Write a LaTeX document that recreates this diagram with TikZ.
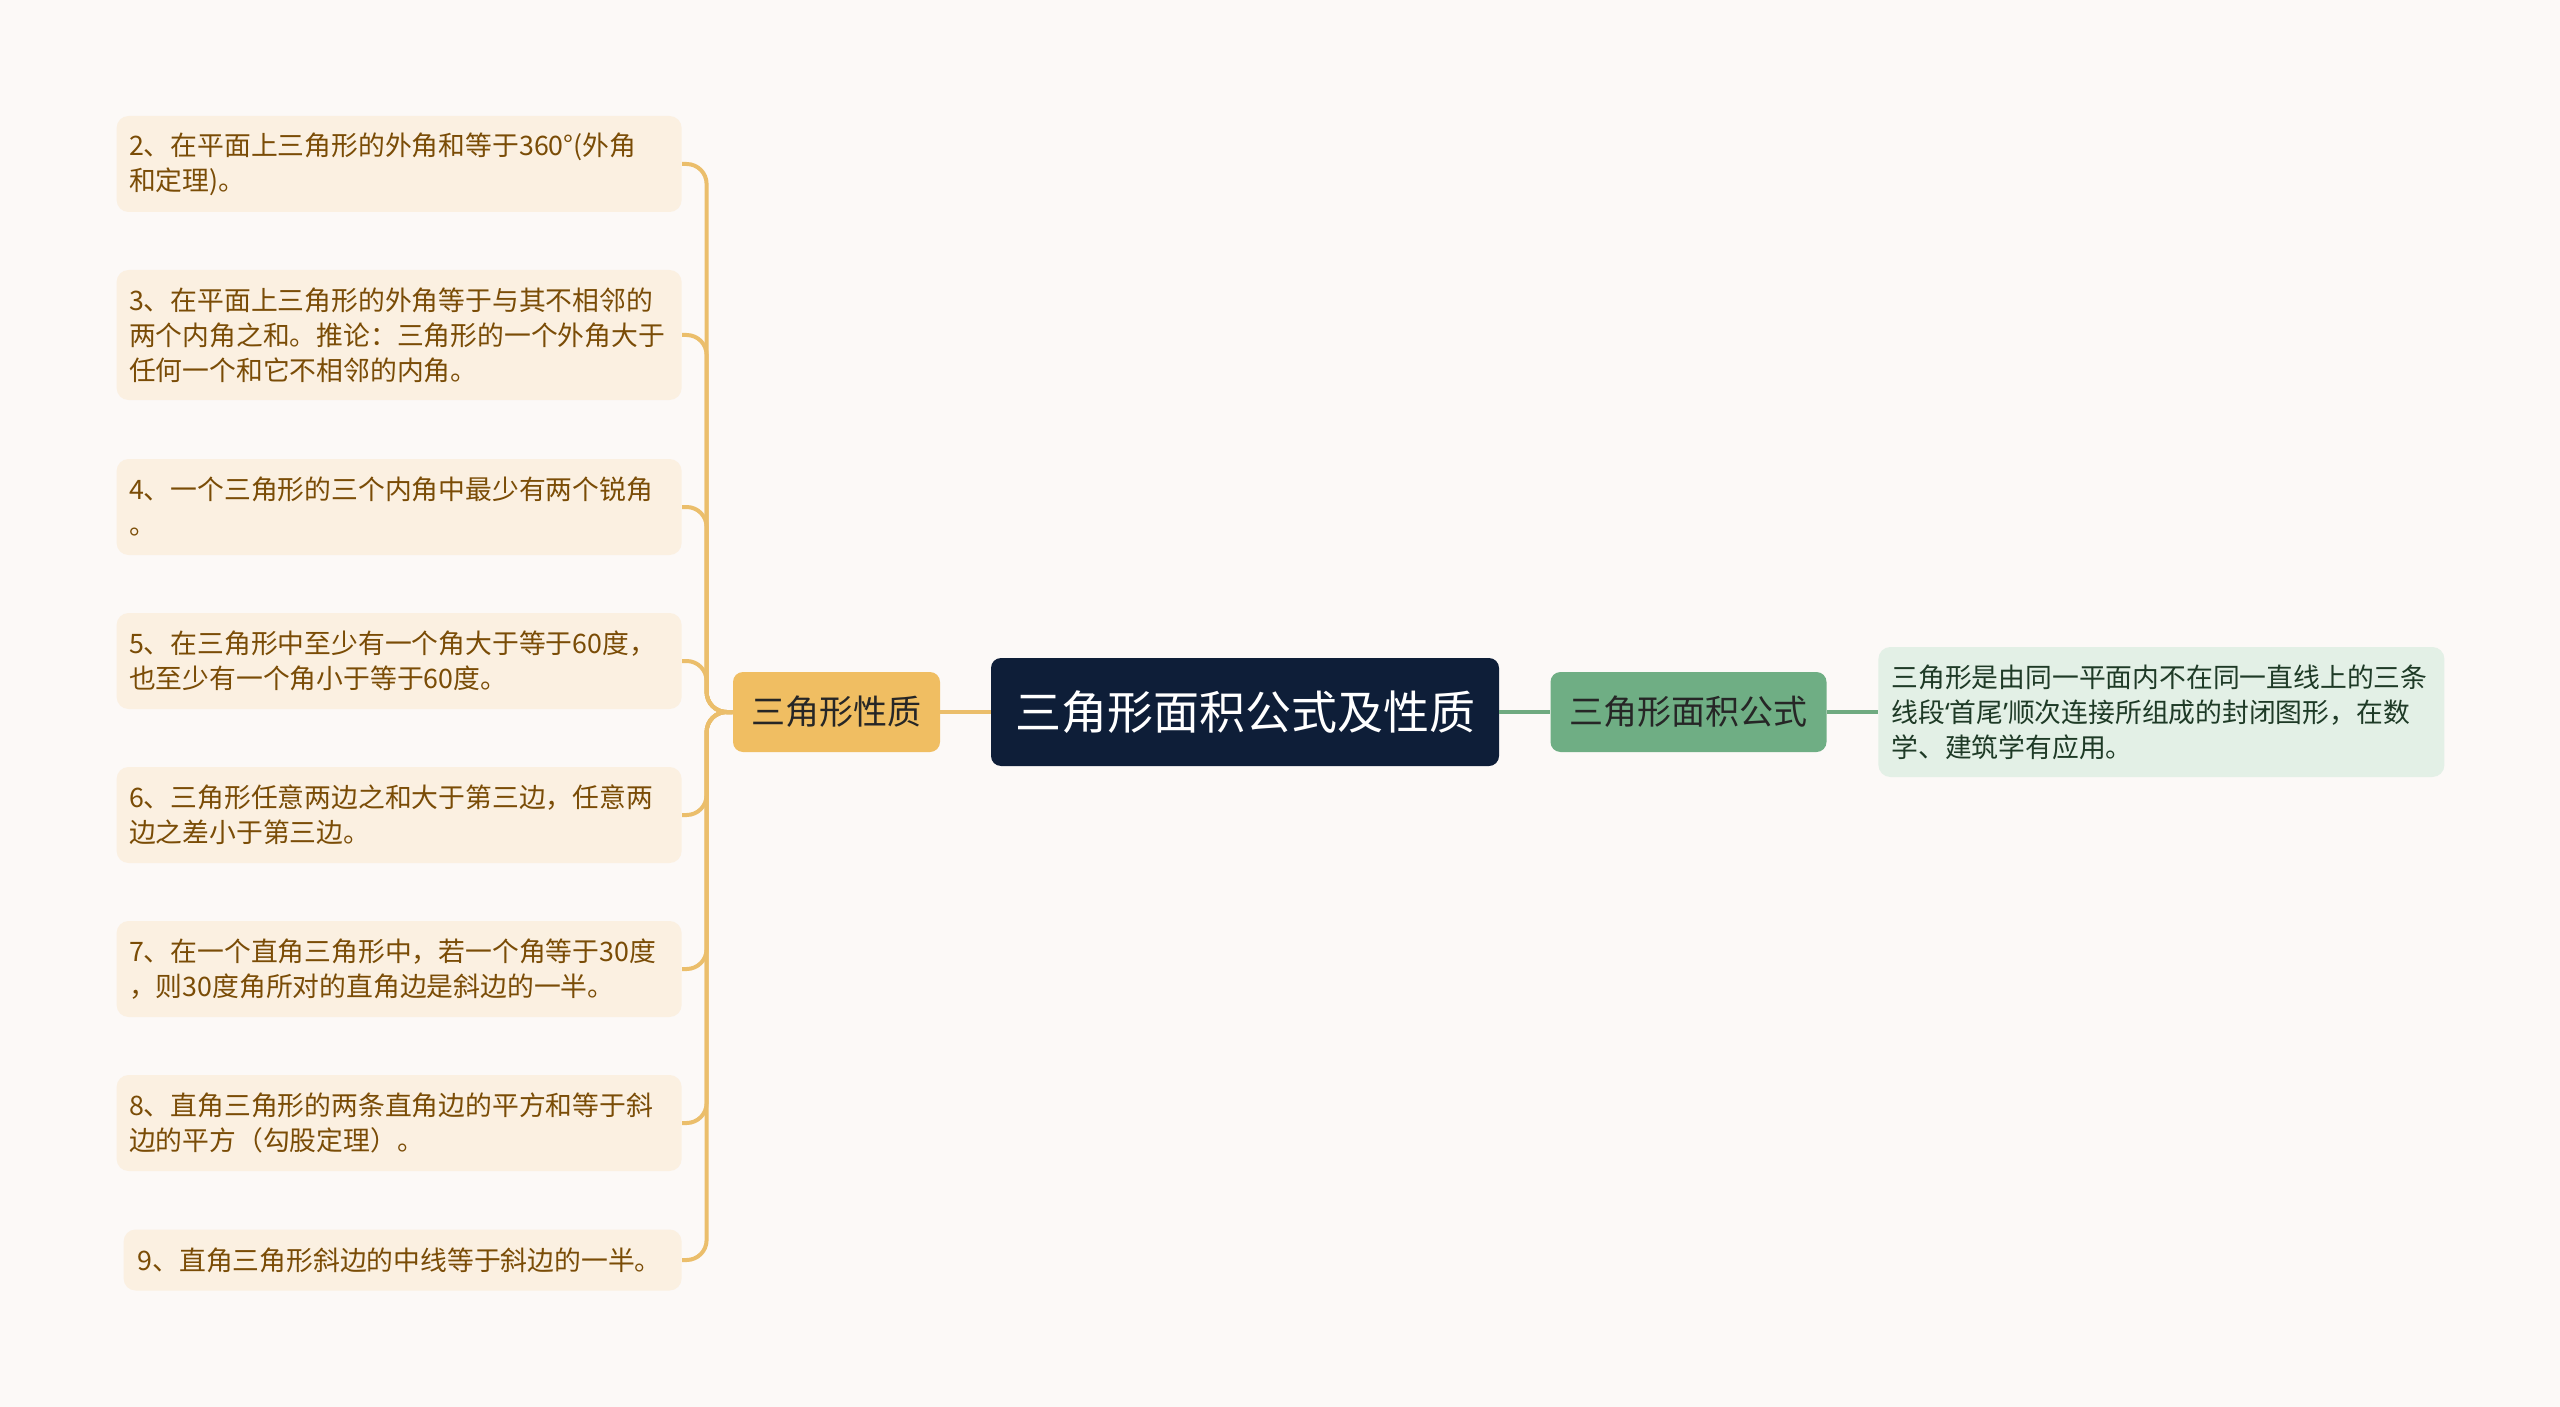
\documentclass[tikz,border=0pt]{standalone}
\usepackage{fontspec}
\setmainfont{Noto Sans CJK SC}
\newfontfamily\narrowq{Noto Sans}
\definecolor{bgc}{HTML}{FCF9F7}
\definecolor{leaffill}{HTML}{FBF0E1}
\definecolor{leaftext}{HTML}{7A4C06}
\definecolor{orangeline}{HTML}{EBBE6B}
\definecolor{orangefill}{HTML}{F0BE62}
\definecolor{navy}{HTML}{0E1E38}
\definecolor{greenfill}{HTML}{6FAE84}
\definecolor{greenline}{HTML}{6FAA80}
\definecolor{descfill}{HTML}{E3F0E6}
\definecolor{desctext}{HTML}{1E3A26}
\tikzset{
  leaf/.style={rectangle, rounded corners=6pt, fill=leaffill, text=leaftext,
    font=\fontsize{13.4}{17.5}\selectfont, align=left, text width=270pt,
    inner xsep=6.25pt, inner ysep=0pt, anchor=east},
  rootbox/.style={rectangle, rounded corners=5pt, fill=navy, text=white,
    font=\fontsize{23}{27}\selectfont, minimum width=254pt, minimum height=54pt, inner sep=0pt},
  orangebox/.style={rectangle, rounded corners=5pt, fill=orangefill, text=black!85,
    font=\fontsize{17}{20}\selectfont, minimum width=103.5pt, minimum height=40pt, inner sep=0pt},
  greenbox/.style={rectangle, rounded corners=5pt, fill=greenfill, text=black!85,
    font=\fontsize{17}{20}\selectfont, minimum width=138pt, minimum height=40pt, inner sep=0pt},
  descbox/.style={rectangle, rounded corners=6pt, fill=descfill, text=desctext,
    font=\fontsize{13.4}{17.5}\selectfont, align=left, text width=270pt,
    inner xsep=6.5pt, inner ysep=0pt, minimum height=65pt, anchor=west},
  oconn/.style={draw=orangeline, line width=2pt, rounded corners=10pt},
  gconn/.style={draw=greenline, line width=2pt},
}
\begin{document}
\begin{tikzpicture}[x=0.5pt, y=-0.5pt]
\fill[bgc] (0,0) rectangle (2560,1407);
\useasboundingbox (0,0) rectangle (2560,1407);

\node[rootbox] (root) at (1245,712) {三角形面积公式及性质};
\node[orangebox] (prop) at (836.5,712) {三角形性质};
\node[greenbox] (area) at (1688.5,712) {三角形面积公式};
\node[descbox] (desc) at (1878,712) {三角形是由同一平面内不在同一直线上的三条\\线段{\narrowq ‘}首尾{\narrowq ’}顺次连接所组成的封闭图形，在数\\学、建筑学有应用。};

\node[leaf, minimum height=48pt] (l2) at (682,164) {2、在平面上三角形的外角和等于360°(外角\\和定理)。};
\node[leaf, minimum height=65pt] (l3) at (682,335) {3、在平面上三角形的外角等于与其不相邻的\\两个内角之和。推论：三角形的一个外角大于\\任何一个和它不相邻的内角。};
\node[leaf, minimum height=48pt] (l4) at (682,507) {4、一个三角形的三个内角中最少有两个锐角\\。};
\node[leaf, minimum height=48pt] (l5) at (682,661) {5、在三角形中至少有一个角大于等于60度，\\也至少有一个角小于等于60度。};
\node[leaf, minimum height=48pt] (l6) at (682,815) {6、三角形任意两边之和大于第三边，任意两\\边之差小于第三边。};
\node[leaf, minimum height=48pt] (l7) at (682,969) {7、在一个直角三角形中，若一个角等于30度\\，则30度角所对的直角边是斜边的一半。};
\node[leaf, minimum height=48pt] (l8) at (682,1123) {8、直角三角形的两条直角边的平方和等于斜\\边的平方（勾股定理）。};
\node[leaf, minimum height=30.5pt, text width=265pt, inner xsep=7pt] (l9) at (682,1260) {9、直角三角形斜边的中线等于斜边的一半。};

\draw[oconn] (root.west) -- (prop.east);
\foreach \n in {l2,l3,l4,l5,l6,l7,l8,l9}{
  \draw[oconn] (prop.west) -- ++(-26,0) |- (\n.east);
}
\draw[gconn] (root.east) -- (area.west);
\draw[gconn] (area.east) -- (desc.west);
\end{tikzpicture}
\end{document}
